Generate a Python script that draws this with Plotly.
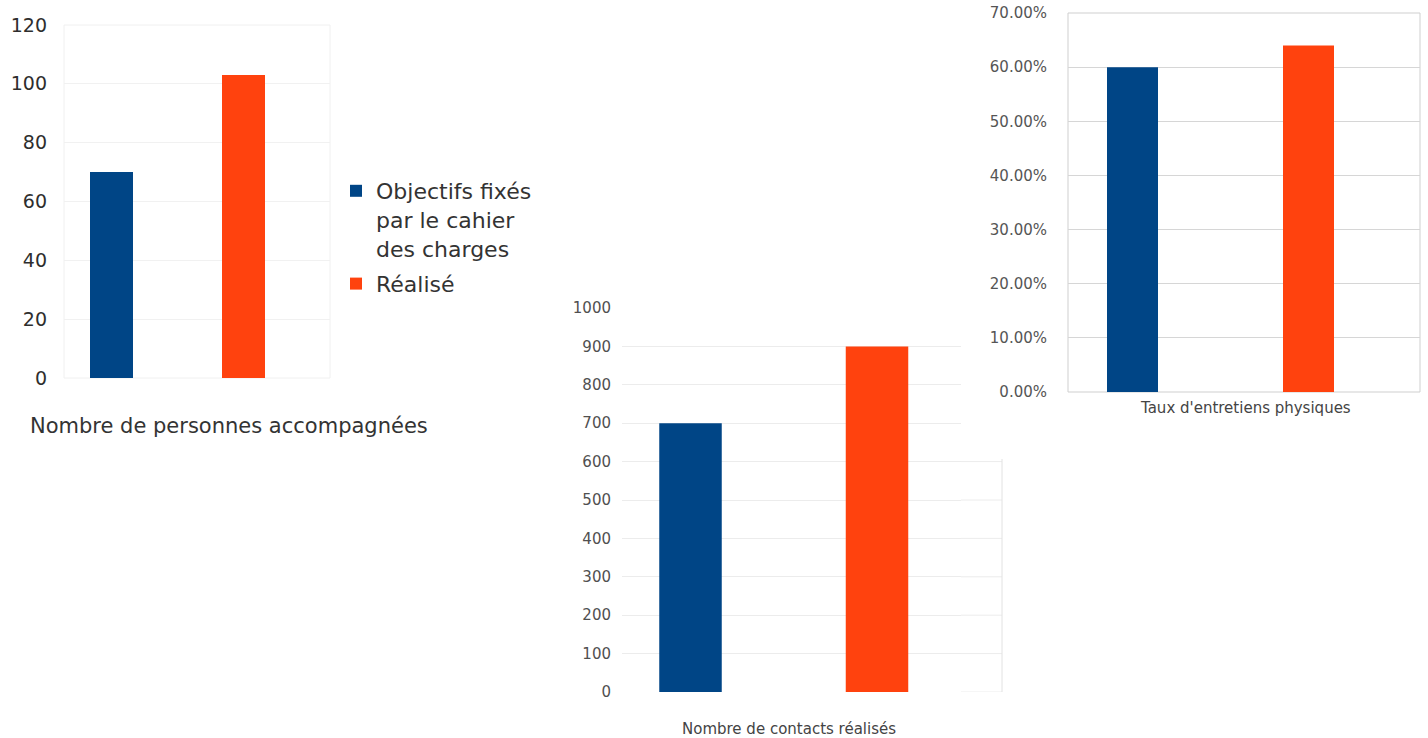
import plotly.graph_objects as go

# ---- data ----
series_names = ["Objectifs fixés<br>par le cahier<br>des charges", "Réalisé"]
series_colors = ["#004586", "#ff420e"]

personnes_label = "Nombre de personnes accompagnées"
personnes_values = [70, 103]

contacts_label = "Nombre de contacts réalisés"
contacts_values = [700, 900]

physiques_label = "Taux d'entretiens physiques"
physiques_values = [0.60, 0.64]

# ---- page geometry (pixels) ----
W, H = 1428, 738
FONT = "DejaVu Sans"


def px_x(p):
    return p / W


def px_y(p):
    return 1 - p / H


# each panel: plot box (left, right, top, bottom) in px, group centre px, slot px, bar px
panels = [
    dict(box=(64, 330, 25, 378), centre=177.5, slot=132, bar=43),
    dict(box=(622, 961, 308, 692), centre=783.75, slot=186.5, bar=62.5),
    dict(box=(1068, 1420, 13, 392), centre=1220.5, slot=176, bar=51),
]
BARGAP = 0.3


def cat_range(p):
    unit = p["slot"] / ((1 - BARGAP) / 2)
    left, right = p["box"][0], p["box"][1]
    return [-(p["centre"] - left) / unit, (right - p["centre"]) / unit], p["bar"] / unit


fig = go.Figure()

datasets = [
    (personnes_label, personnes_values),
    (contacts_label, contacts_values),
    (physiques_label, physiques_values),
]

for i, (label, vals) in enumerate(datasets):
    rng, bw = cat_range(panels[i])
    axis_suffix = "" if i == 0 else str(i + 1)
    for j, name in enumerate(series_names):
        fig.add_trace(go.Bar(
            x=[label], y=[vals[j]], name=name,
            marker=dict(color=series_colors[j], line=dict(width=0)),
            width=bw, offsetgroup=str(j),
            legendgroup=str(j), showlegend=(i == 0),
            xaxis="x" + axis_suffix, yaxis="y" + axis_suffix,
            hoverinfo="skip",
        ))

layout = dict(
    width=W, height=H,
    margin=dict(l=0, r=0, t=0, b=0, autoexpand=False),
    paper_bgcolor="white", plot_bgcolor="rgba(0,0,0,0)",
    barmode="group", bargap=BARGAP, bargroupgap=0,
    font=dict(family=FONT, color="#333333"),
    showlegend=True,
    legend=dict(
        x=px_x(336), y=px_y(170), xanchor="left", yanchor="top",
        font=dict(family=FONT, size=22, color="#333333"),
        valign="top", tracegroupgap=4, itemwidth=30,
        bgcolor="rgba(0,0,0,0)",
    ),
)

y_specs = [
    dict(range=[0, 120], dtick=20, tickformat="d", size=19, color="#2e2e2e",
         grid="#f1f1f1", standoff=16),
    dict(range=[0, 1000], dtick=100, tickformat="d", size=15, color="#505050",
         grid="#ececec", standoff=10),
    dict(range=[0, 0.70], dtick=0.10, tickformat=".2%", size=15, color="#555555",
         grid="#d6d6d6", standoff=20),
]

for i, p in enumerate(panels):
    suffix = "" if i == 0 else str(i + 1)
    rng, _ = cat_range(p)
    left, right, top, bottom = p["box"]
    ys = y_specs[i]
    layout["xaxis" + suffix] = dict(
        domain=[px_x(left), px_x(right)], range=rng, type="category",
        anchor="y" + suffix, showticklabels=False, showgrid=False,
        zeroline=False, showline=False, fixedrange=True, automargin=False,
    )
    layout["yaxis" + suffix] = dict(
        domain=[px_y(bottom), px_y(top)], range=ys["range"], dtick=ys["dtick"],
        tickformat=ys["tickformat"], anchor="x" + suffix,
        showgrid=True, gridcolor=ys["grid"], gridwidth=1,
        zeroline=False, showline=False, ticks="",
        ticklabelstandoff=ys["standoff"],
        tickfont=dict(family=FONT, size=ys["size"], color=ys["color"]),
        fixedrange=True, automargin=False,
    )

fig.update_layout(**layout)

shapes = []
# faint frame around the first panel
l0, r0, t0, b0 = panels[0]["box"]
shapes.append(dict(type="rect", xref="paper", yref="paper",
                   x0=px_x(l0), x1=px_x(r0), y0=px_y(b0), y1=px_y(t0),
                   line=dict(color="#f0f0f0", width=1), layer="below"))

# second panel: its lower gridlines run on past the sheet of the third panel
EDGE_X = 1002
SHEET_BOTTOM = 459
grid_color_mid = y_specs[1]["grid"]
for v in range(0, 700, 100):
    shapes.append(dict(type="line", xref="paper", yref="y2",
                       x0=px_x(panels[1]["box"][1]), x1=px_x(EDGE_X), y0=v, y1=v,
                       line=dict(color=grid_color_mid, width=1), layer="below"))
shapes.append(dict(type="line", xref="paper", yref="paper",
                   x0=px_x(EDGE_X), x1=px_x(EDGE_X),
                   y0=px_y(panels[1]["box"][3]), y1=px_y(SHEET_BOTTOM),
                   line=dict(color="#e2e2e2", width=1), layer="below"))

# frame of the third panel
l2, r2, t2, b2 = panels[2]["box"]
shapes.append(dict(type="rect", xref="paper", yref="paper",
                   x0=px_x(l2), x1=px_x(r2), y0=px_y(b2), y1=px_y(t2),
                   line=dict(color="#cfcfcf", width=1), layer="below"))
fig.update_layout(shapes=shapes)

# category labels under each panel
labels = [
    (personnes_label, 229, 426, 21, "#333333"),
    (contacts_label, 789, 729, 15, "#444444"),
    (physiques_label, 1245, 408, 15, "#444444"),
]
for text, cx, cy, size, color in labels:
    fig.add_annotation(
        text=text, xref="paper", yref="paper", x=px_x(cx), y=px_y(cy),
        xanchor="center", yanchor="middle", showarrow=False,
        font=dict(family=FONT, size=size, color=color),
    )

fig.write_html("out.html")
